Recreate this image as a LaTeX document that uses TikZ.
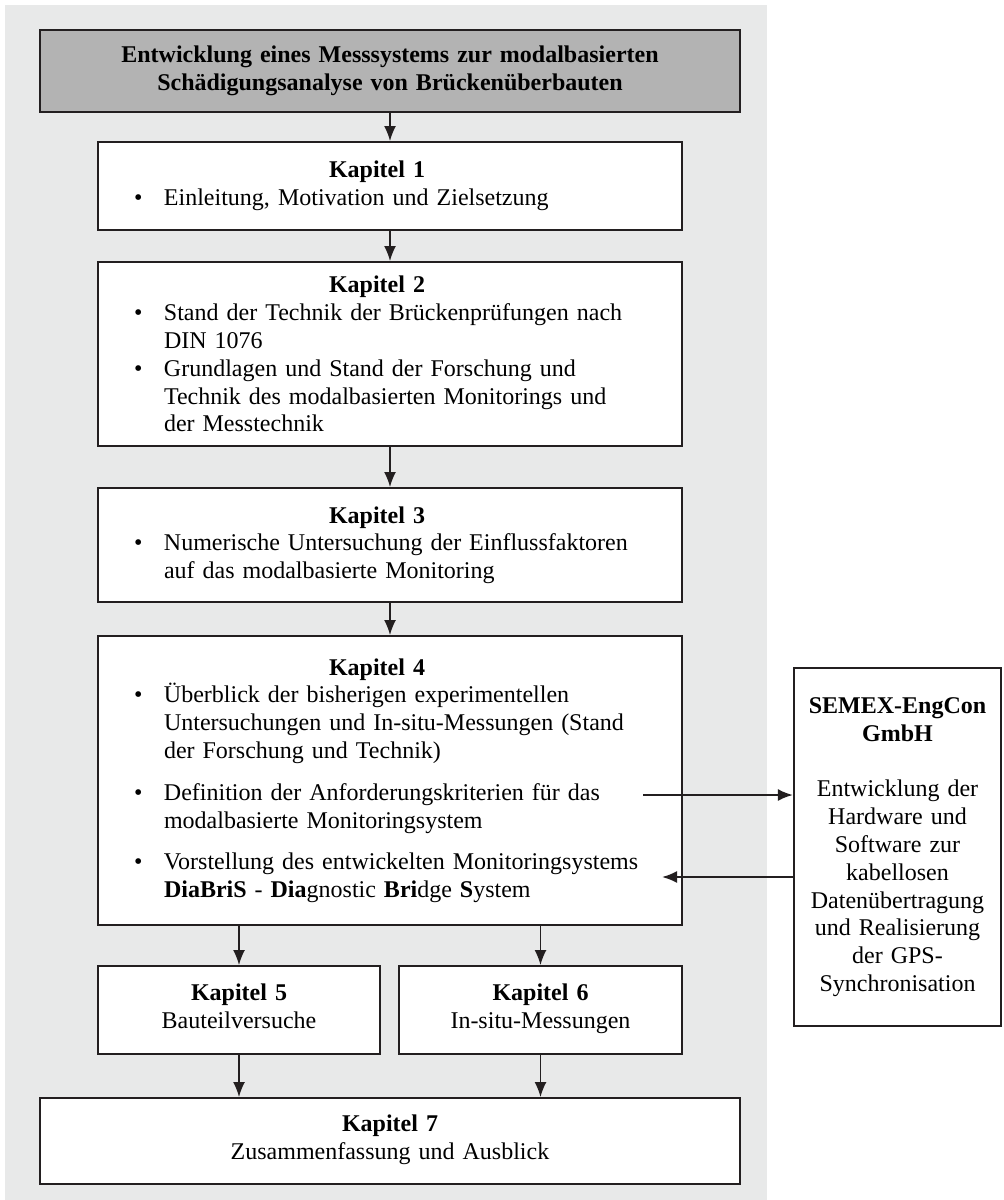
\documentclass[tikz,border=0pt]{standalone}
\usepackage{fontspec}
\setmainfont{Liberation Serif}
\usepackage{xcolor}
\usepackage{tikz}
\usetikzlibrary{arrows.meta,calc}

\definecolor{bggrey}{HTML}{E8E9E9}
\definecolor{titlegrey}{HTML}{B3B3B3}
\definecolor{linedark}{HTML}{231F20}

\tikzset{
  box/.style={draw=linedark, line width=1.1pt, fill=white, anchor=north,
    inner xsep=0pt, inner ysep=2pt, font=\fontsize{12pt}{13.9pt}\selectfont},
  kbox/.style={box, minimum width=292pt, text width=292pt},
  cbox/.style={box, align=center},
  arr/.style={-{Latex[length=7.5pt,width=6pt]}, line width=0.75pt, draw=linedark},
  harr/.style={arr, line width=1pt}
}

% heading and bullet lines inside the chapter boxes
\newcommand{\khead}[1]{{\leftskip=0pt plus 1fil\rightskip=13pt plus 1fil
  \parfillskip=0pt\noindent\textbf{#1}\par}}
\newcommand{\kitem}[1]{{\leftskip=33pt\rightskip=0pt plus 1fil
  \noindent\llap{\makebox[15pt][l]{\textbullet}}#1\par}}
\newcommand{\kgap}{\vspace{7pt}}

\begin{document}
\begin{tikzpicture}[x=0.5pt,y=-0.5pt]
\useasboundingbox (0,0) rectangle (1003,1200);
\fill[bggrey] (5,5) rectangle (767,1200);

\node[cbox, fill=titlegrey, minimum width=350pt, text width=350pt, minimum height=41pt] (title) at (390,29)
  {\textbf{Entwicklung eines Messsystems zur modalbasierten}\\
   \textbf{Schädigungsanalyse von Brückenüberbauten}};

\node[kbox, minimum height=44pt] (k1) at (390,141)
  {\khead{Kapitel 1}\kitem{Einleitung, Motivation und Zielsetzung}};

\node[kbox, minimum height=92pt] (k2) at (390,261)
  {\khead{Kapitel 2}%
   \kitem{Stand der Technik der Brückenprüfungen nach\newline DIN 1076}%
   \kitem{Grundlagen und Stand der Forschung und\newline Technik des modalbasierten Monitorings und\newline der Messtechnik}};

\node[kbox, minimum height=57pt] (k3) at (390,487)
  {\khead{Kapitel 3}%
   \kitem{Numerische Untersuchung der Einflussfaktoren\newline auf das modalbasierte Monitoring}};

\node[kbox, minimum height=144.5pt] (k4) at (390,635)
  {\khead{Kapitel 4}%
   \kitem{Überblick der bisherigen experimentellen\newline Untersuchungen und In-situ-Messungen (Stand\newline der Forschung und Technik)}\kgap
   \kitem{Definition der Anforderungskriterien für das\newline modalbasierte Monitoringsystem}\kgap
   \kitem{Vorstellung des entwickelten Monitoringsystems\newline \textbf{DiaBriS} - \textbf{Dia}gnostic \textbf{Bri}dge \textbf{S}ystem}};

\node[cbox, minimum width=141pt, text width=141pt, minimum height=44pt] (k5) at (239,965)
  {\textbf{Kapitel 5}\\ Bauteilversuche\strut};
\node[cbox, minimum width=141.5pt, text width=141.5pt, minimum height=44pt] (k6) at (540.5,965)
  {\textbf{Kapitel 6}\\ In-situ-Messungen\strut};

\node[cbox, minimum width=350pt, text width=350pt, minimum height=43pt] (k7) at (390,1097)
  {\textbf{Kapitel 7}\\ Zusammenfassung und Ausblick\strut};

\node[cbox, minimum width=103.5pt, text width=103.5pt, minimum height=179pt] (semex) at (897.5,667)
  {\textbf{SEMEX-EngCon}\\ \textbf{GmbH}\\[13.9pt]
   Entwicklung der\\ Hardware und\\ Software zur\\ kabellosen\\ Datenübertragung\\
   und Realisierung\\ der GPS-\\ Synchronisation};

\coordinate (k4out) at (643,795);
\coordinate (k4in) at (662,877);

\draw[arr] (title) -- (k1);
\draw[arr] (k1) -- (k2);
\draw[arr] (k2) -- (k3);
\draw[arr] (k3) -- (k4);
\draw[arr] (k4.south -| k5) -- (k5);
\draw[arr] (k4.south -| k6) -- (k6);
\draw[arr] (k5) -- (k5 |- k7.north);
\draw[arr] (k6) -- (k6 |- k7.north);
\draw[harr] (k4out) -- (k4out -| semex.west);
\draw[harr] (k4in -| semex.west) -- (k4in);
\end{tikzpicture}
\end{document}
